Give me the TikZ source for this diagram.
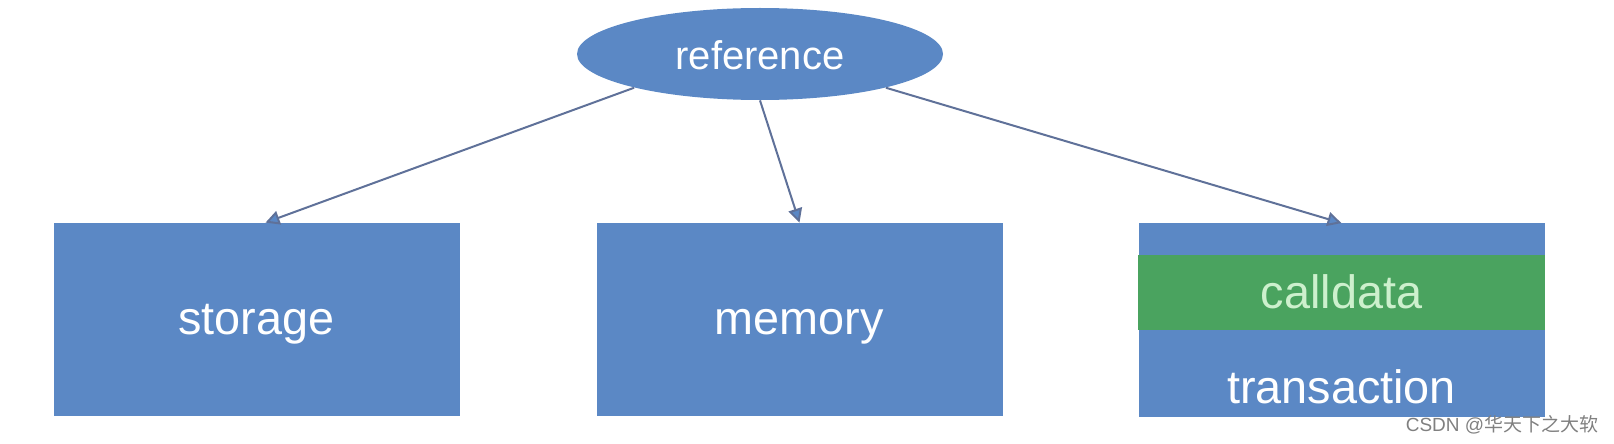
\documentclass[tikz,border=0pt]{standalone}
\usepackage{fontspec}
\setmainfont{Liberation Sans}
\newfontfamily\cjkfont{Noto Sans CJK SC}
\usetikzlibrary{shapes.geometric,arrows.meta}
\definecolor{boxblue}{HTML}{5B88C5}
\definecolor{bandgreen}{HTML}{4AA35F}
\definecolor{linegray}{HTML}{5F7199}

\begin{document}
\begin{tikzpicture}[x=0.5pt,y=-0.5pt,
    box/.style={fill=boxblue,minimum width=203pt,minimum height=96.5pt,inner sep=0pt},
    band/.style={fill=bandgreen,minimum width=203.5pt,minimum height=37.5pt,inner sep=0pt},
    txt/.style={anchor=base,inner sep=0pt,text=white,font=\fontsize{23.4}{28}\selectfont},
    conn/.style={draw=linegray,line width=1pt,-{Triangle[length=7pt,width=7pt,fill=boxblue]}}]
    \useasboundingbox (0,0) rectangle (1614,444);
    \node[ellipse,fill=boxblue,minimum width=183pt,minimum height=46pt,inner sep=0pt] (ref) at (760,54) {};
    \node[txt,font=\fontsize{20}{24}\selectfont] (reftext) at (760,70) {reference};
    \node[box] (storage) at (256.5,319.5) {};
    \node[txt] (storagetext) at (256.5,335) {storage};
    \node[box] (memory) at (799.5,319.5) {};
    \node[txt] (memorytext) at (799,335) {memory};
    \node[box] (txn) at (1341.5,320) {};
    \node[band] (calldata) at (1341.5,292.5) {};
    \node[txt,text={rgb,255:red,205;green,240;blue,205}] (calldatatext) at (1341.5,308) {calldata};
    \node[txt] (txntext) at (1341.5,403) {transaction};
    \draw[conn] (ref.195) -- ([xshift=4.5pt]storage.north);
    \draw[conn] (ref.south) -- (memory.north);
    \draw[conn] (ref.-15) -- (txn.north);
    \node[text=gray,font=\fontsize{9.5}{11}\selectfont] (mark) at (1502,425) {CSDN @{\cjkfont 华天下之大软}};
\end{tikzpicture}
\end{document}
